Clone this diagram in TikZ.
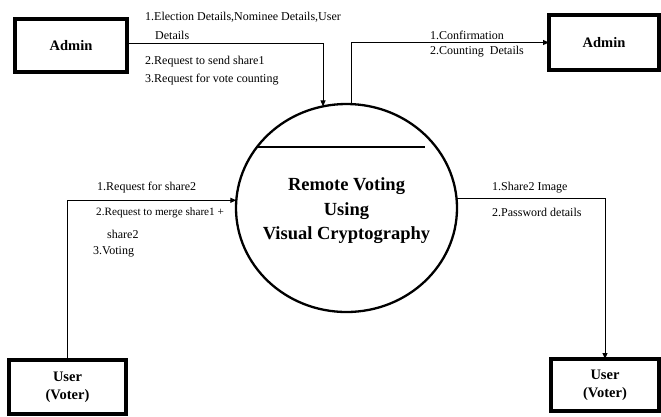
\documentclass[tikz,border=0pt]{standalone}
\usepackage{fontspec}
\setmainfont{Liberation Serif}
\usetikzlibrary{shapes.geometric,arrows.meta}
\begin{document}
\begin{tikzpicture}[x=1pt,y=-1pt,
  entity/.style={draw,line width=4pt,inner sep=0pt,outer sep=0pt,align=center,
    font=\bfseries\fontsize{14.5}{18}\selectfont},
  flow/.style={line width=1pt,-{Triangle[length=6pt,width=5pt]}},
  lbl/.style={anchor=west,inner sep=0pt,font=\fontsize{12}{14}\selectfont}]
\useasboundingbox (0,0) rectangle (661,416);
\node[entity,minimum width=112pt,minimum height=53pt] (admin1) at (71,45.5) {Admin};
\node[entity,minimum width=110pt,minimum height=55pt] (admin2) at (604,42.5) {Admin};
\node[entity,minimum width=117pt,minimum height=54pt] (user1) at (67.5,387) {User\\(Voter)};
\node[entity,minimum width=108pt,minimum height=52pt] (user2) at (605,385) {User\\(Voter)};
\node[ellipse,draw,line width=2.3pt,minimum width=221pt,minimum height=208pt,inner sep=0pt,outer sep=0pt] (proc) at (346.5,208) {};
\node[font=\bfseries\fontsize{18.5}{24.5}\selectfont,align=center] (ptitle) at (346.5,211) {Remote Voting\\Using\\Visual Cryptography};
\coordinate (hl) at (257,147);
\coordinate (hr) at (425,147);
\draw[line width=1.1pt] (hl) -- (hr);
% connectors
\draw[flow] ([yshift=2.5pt]admin1.east) -| (proc.103);
\draw[flow] (proc.87.5) |- (admin2.west);
\draw[flow] (user1.north) |- (proc.176.4);
\draw[flow] (proc.5.2) -| (user2.north);
% labels
\node[lbl] (l1) at (145,17) {1.Election Details,Nominee Details,User};
\node[lbl] (l2) at (155,35) {Details};
\node[lbl] (l3) at (145,62) {2.Request to send share1};
\node[lbl] (l4) at (145,80) {3.Request for vote counting};
\node[lbl] (r1) at (430,35) {1.Confirmation};
\node[lbl] (r2) at (430,52) {2.Counting\ \ Details};
\node[lbl] (b1) at (97,188) {1.Request for share2};
\node[lbl,font=\fontsize{11.2}{14}\selectfont] (b2) at (96,213) {2.Request to merge share1 +};
\node[lbl] (b3) at (107,234) {share2};
\node[lbl] (b4) at (93,252) {3.Voting};
\node[lbl] (c1) at (492,188) {1.Share2 Image};
\node[lbl] (c2) at (492,212) {2.Password details};
\end{tikzpicture}
\end{document}
